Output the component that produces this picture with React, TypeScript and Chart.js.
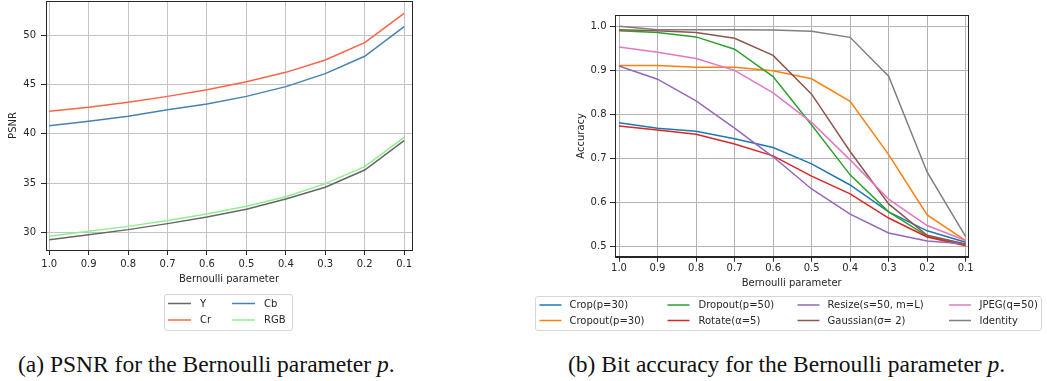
import React, { useEffect, useRef } from 'react';
import { Chart, registerables } from 'chart.js';

Chart.register(...registerables);

// ---------- data ----------
const pValues = [1.0, 0.9, 0.8, 0.7, 0.6, 0.5, 0.4, 0.3, 0.2, 0.1];

const psnrY = [29.25, 29.76, 30.27, 30.88, 31.56, 32.34, 33.39, 34.57, 36.33, 39.31];
const psnrCr = [42.29, 42.7, 43.21, 43.81, 44.49, 45.3, 46.25, 47.51, 49.27, 52.25];
const psnrCb = [40.83, 41.27, 41.78, 42.46, 43.04, 43.81, 44.8, 46.12, 47.88, 50.89];
const psnrRGB = [29.59, 30.1, 30.6, 31.19, 31.86, 32.64, 33.62, 34.94, 36.67, 39.65];
const psnrTicks = [30, 35, 40, 45, 50];

const accCrop = [0.781, 0.769, 0.762, 0.745, 0.725, 0.688, 0.64, 0.579, 0.536, 0.51];
const accCropout = [0.911, 0.911, 0.907, 0.907, 0.899, 0.881, 0.83, 0.709, 0.572, 0.514];
const accDropout = [0.99, 0.986, 0.976, 0.948, 0.886, 0.776, 0.663, 0.579, 0.524, 0.504];
const accRotate = [0.774, 0.765, 0.755, 0.733, 0.706, 0.66, 0.62, 0.565, 0.522, 0.502];
const accResize = [0.91, 0.88, 0.831, 0.769, 0.704, 0.631, 0.574, 0.531, 0.513, 0.506];
const accGaussian = [0.9925, 0.99, 0.986, 0.973, 0.934, 0.846, 0.716, 0.597, 0.526, 0.506];
const accJpeg = [0.953, 0.941, 0.927, 0.9, 0.849, 0.782, 0.697, 0.608, 0.548, 0.514];
const accIdentity = [1.0, 0.992, 0.992, 0.992, 0.9917, 0.9887, 0.975, 0.887, 0.669, 0.523];
const accTicks = [0.5, 0.6, 0.7, 0.8, 0.9, 1.0];

const psnrLabels = ['Y', 'Cr', 'Cb', 'RGB'];
const psnrColors = ['#666666', '#ff6347', '#4682b4', '#90ee90'];
const psnrSeries = [psnrY, psnrCr, psnrCb, psnrRGB];

const accLabels = [
  'Crop(p=30)', 'Cropout(p=30)', 'Dropout(p=50)', 'Rotate(α=5)',
  'Resize(s=50, m=L)', 'Gaussian(σ= 2)', 'JPEG(q=50)', 'Identity',
];
const accColors = ['#1f77b4', '#ff7f0e', '#2ca02c', '#d62728', '#9467bd', '#8c564b', '#e377c2', '#7f7f7f'];
const accSeries = [accCrop, accCropout, accDropout, accRotate, accResize, accGaussian, accJpeg, accIdentity];

const FONT = { family: '"DejaVu Sans", sans-serif', size: 10 };
const TEXT = '#262626';
const AXIS = '#262626';

type LegendCfg = {
  box: [number, number, number, number];
  handleX: number[];
  textX: number[];
  rows: number[];
  handleLen: number;
};

function legendPlugin(cfg: LegendCfg) {
  return {
    id: 'boxLegend',
    afterDraw(chart: any) {
      const ctx = chart.ctx as CanvasRenderingContext2D;
      const [x0, y0, x1, y1] = cfg.box;
      ctx.save();
      const r = 2.5;
      ctx.beginPath();
      ctx.moveTo(x0 + r, y0);
      ctx.lineTo(x1 - r, y0);
      ctx.arcTo(x1, y0, x1, y0 + r, r);
      ctx.lineTo(x1, y1 - r);
      ctx.arcTo(x1, y1, x1 - r, y1, r);
      ctx.lineTo(x0 + r, y1);
      ctx.arcTo(x0, y1, x0, y1 - r, r);
      ctx.lineTo(x0, y0 + r);
      ctx.arcTo(x0, y0, x0 + r, y0, r);
      ctx.closePath();
      ctx.fillStyle = 'rgba(255,255,255,0.9)';
      ctx.fill();
      ctx.strokeStyle = '#d6d6d6';
      ctx.lineWidth = 1;
      ctx.stroke();
      const nRows = cfg.rows.length;
      chart.data.datasets.forEach((ds: any, i: number) => {
        const col = Math.floor(i / nRows);
        const row = i % nRows;
        const y = cfg.rows[row];
        ctx.strokeStyle = ds.borderColor;
        ctx.lineWidth = 1.5;
        ctx.beginPath();
        ctx.moveTo(cfg.handleX[col], y);
        ctx.lineTo(cfg.handleX[col] + cfg.handleLen, y);
        ctx.stroke();
        ctx.fillStyle = TEXT;
        ctx.font = '10px "DejaVu Sans", sans-serif';
        ctx.textBaseline = 'middle';
        ctx.textAlign = 'left';
        ctx.fillText(ds.label, cfg.textX[col], y + 0.5);
      });
      ctx.restore();
    },
  };
}

const framePlugin = {
  id: 'frame',
  afterDatasetsDraw(chart: any) {
    const { ctx, chartArea } = chart;
    const { left, top, right, bottom } = chartArea;
    ctx.save();
    ctx.strokeStyle = AXIS;
    ctx.lineWidth = 1;
    ctx.strokeRect(Math.round(left) + 0.5, Math.round(top) + 0.5, Math.round(right - left), Math.round(bottom - top));
    ctx.restore();
  },
};

function makeChart(
  canvas: HTMLCanvasElement,
  opts: {
    labels: string[];
    colors: string[];
    series: number[][];
    xMin: number; xMax: number;
    yMin: number; yMax: number;
    yTicks: number[];
    yFmt: (v: number) => string;
    yTitle: string;
    yWidth: number;
    yTitlePad: number;
    yTickPad: number;
    xHeight: number;
    xTitlePad: number;
    xTickPad: number;
    padding: { left: number; top: number; right: number; bottom: number };
    gridColor: string;
    legend: LegendCfg;
  }
) {
  const datasets = opts.series.map((vals, i) => ({
    label: opts.labels[i],
    data: pValues.map((p, j) => ({ x: p, y: vals[j] })),
    borderColor: opts.colors[i],
    backgroundColor: opts.colors[i],
    borderWidth: 1.5,
    pointRadius: 0,
    tension: 0,
    fill: false,
    order: -i,
  }));
  return new Chart(canvas, {
    type: 'line',
    data: { datasets },
    options: {
      responsive: false,
      animation: false,
      events: [],
      layout: { padding: opts.padding },
      plugins: { legend: { display: false }, tooltip: { enabled: false }, title: { display: false } },
      scales: {
        x: {
          type: 'linear',
          reverse: true,
          min: opts.xMin,
          max: opts.xMax,
          afterBuildTicks: (s: any) => { s.ticks = pValues.map((v) => ({ value: v })); },
          afterFit: (s: any) => { s.height = opts.xHeight; s.paddingLeft = 0; s.paddingRight = 0; },
          ticks: {
            autoSkip: false,
            maxRotation: 0,
            padding: opts.xTickPad,
            font: FONT,
            color: TEXT,
            callback: (v: any) => Number(v).toFixed(1),
          },
          grid: { color: opts.gridColor, lineWidth: 1, tickLength: 5, tickColor: AXIS, drawTicks: true },
          border: { color: AXIS, width: 1 },
          title: { display: true, text: 'Bernoulli parameter', font: FONT, color: TEXT, padding: { top: 0, bottom: opts.xTitlePad } },
        },
        y: {
          type: 'linear',
          min: opts.yMin,
          max: opts.yMax,
          afterBuildTicks: (s: any) => { s.ticks = opts.yTicks.map((v) => ({ value: v })); },
          afterFit: (s: any) => { s.width = opts.yWidth; s.paddingTop = 0; s.paddingBottom = 0; },
          ticks: { padding: opts.yTickPad, font: FONT, color: TEXT, callback: (v: any) => opts.yFmt(Number(v)) },
          grid: { color: opts.gridColor, lineWidth: 1, tickLength: 5, tickColor: AXIS, drawTicks: true },
          border: { color: AXIS, width: 1 },
          title: { display: true, text: opts.yTitle, font: FONT, color: TEXT, padding: { top: opts.yTitlePad, bottom: 0 } },
        },
      },
    },
    plugins: [framePlugin, legendPlugin(opts.legend)],
  } as any);
}

export default function App() {
  const leftRef = useRef<HTMLCanvasElement>(null);
  const rightRef = useRef<HTMLCanvasElement>(null);

  useEffect(() => {
    const left = makeChart(leftRef.current!, {
      labels: psnrLabels,
      colors: psnrColors,
      series: psnrSeries,
      xMin: 0.08, xMax: 1.0083,
      yMin: 28.2, yMax: 53.5,
      yTicks: psnrTicks,
      yFmt: (v) => String(v),
      yTitle: 'PSNR',
      yWidth: 46,
      yTitlePad: 7,
      yTickPad: 5,
      xHeight: 42,
      xTitlePad: 7,
      xTickPad: 3,
      padding: { left: 0, top: 1, right: 18, bottom: 48 },
      gridColor: '#c4c4c4',
      legend: { box: [164.5, 294.5, 292.5, 330.5], handleX: [168, 232], textX: [200, 264], rows: [303.5, 320], handleLen: 23 },
    });
    const right = makeChart(rightRef.current!, {
      labels: accLabels,
      colors: accColors,
      series: accSeries,
      xMin: 0.0932, xMax: 1.0104,
      yMin: 0.4773, yMax: 1.0257,
      yTicks: accTicks,
      yFmt: (v) => v.toFixed(1),
      yTitle: 'Accuracy',
      yWidth: 55,
      yTitlePad: 15.7,
      yTickPad: 3.5,
      xHeight: 35.3,
      xTitlePad: 2.7,
      xTickPad: 1,
      padding: { left: 30, top: 15, right: 78.7, bottom: 48 },
      gridColor: '#b4b4b4',
      legend: { box: [5.5, 296.5, 511.5, 330.5], handleX: [9.5, 137.5, 267.5, 419], textX: [39.5, 168.5, 297.5, 449.5], rows: [305, 320.5], handleLen: 22 },
    });
    return () => { left.destroy(); right.destroy(); };
  }, []);

  const capStyle: React.CSSProperties = {
    position: 'absolute',
    top: 353,
    fontFamily: '"Liberation Serif", "Times New Roman", serif',
    fontSize: 23.5,
    lineHeight: '23px',
    color: '#111',
    whiteSpace: 'nowrap',
  };

  return (
    <div style={{ position: 'absolute', left: 0, top: 0, width: 1047, height: 381, background: '#fff', overflow: 'hidden' }}>
      <canvas ref={leftRef} width={430} height={340} style={{ position: 'absolute', left: 0, top: 0, width: 430, height: 340 }} />
      <canvas ref={rightRef} width={517} height={340} style={{ position: 'absolute', left: 530, top: 0, width: 517, height: 340 }} />
      <div style={{ ...capStyle, left: 18 }}>(a) PSNR for the Bernoulli parameter <i>p</i>.</div>
      <div style={{ ...capStyle, left: 568 }}>(b) Bit accuracy for the Bernoulli parameter <i>p</i>.</div>
    </div>
  );
}
